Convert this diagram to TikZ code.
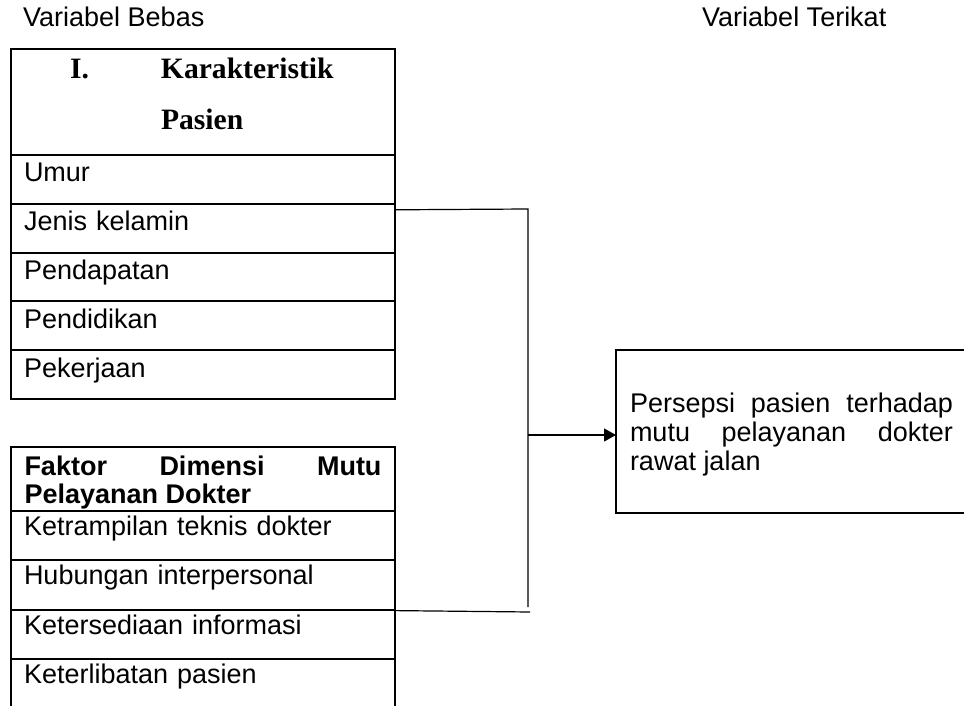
\documentclass[tikz,border=0pt]{standalone}
\usepackage{fontspec}
\setmainfont{Liberation Sans}
\newfontfamily\serifhead{Liberation Serif}
\usetikzlibrary{arrows.meta, positioning}
\tikzset{
  base/.style={draw=black, line width=2pt, inner ysep=0pt, outer sep=0pt,
               anchor=north west, font=\fontsize{27}{29}\selectfont},
  rowa/.style={base, text width=358pt, inner xsep=13pt, align=left,
               text height=27pt, text depth=21.8pt},
  rowb/.style={rowa, text height=24.5pt, text depth=24.8pt},
  headA/.style={base, text width=358pt, inner xsep=13pt, align=left,
                text height=30pt, text depth=76pt,
                font=\serifhead\bfseries\fontsize{29.6}{51}\selectfont},
  headB/.style={base, text width=357pt, inner xsep=13.5pt, align=justify,
                text height=28pt, text depth=36pt,
                font=\bfseries\fontsize{27}{28}\selectfont},
  target/.style={base, text width=323pt, inner xsep=14pt, align=justify,
                 text height=62pt, text depth=101pt},
  link/.style={line width=1.2pt, color=black},
  arr/.style={link, -{Triangle[length=12pt, width=13pt]}},
}

\begin{document}
\begin{tikzpicture}[
  x=1pt, y=-1pt,
  lbl/.style={font=\fontsize{27}{29}\selectfont, inner sep=0pt, anchor=base west},
  execute at begin node={\tolerance=9999\hyphenpenalty=10000}
]
  \useasboundingbox (0,0) rectangle (964,706);
  \clip (0,0) rectangle (964,706);

  % Titles
  \node[lbl] (bebas)   at (23,27)  {Variabel Bebas};
  \node[lbl] (terikat) at (702,27) {Variabel Terikat};

  % Karakteristik pasien
  \node[headA] (karakteristik) at (11,49)
    {\hspace*{46pt}\makebox[91pt][l]{I.}Karakteristik\\\hspace*{137pt}Pasien};
  \node[rowa] (umur)       at (karakteristik.south west) {Umur};
  \node[rowa] (jenis)      at (umur.south west)          {Jenis kelamin};
  \node[rowa] (pendapatan) at (jenis.south west)         {Pendapatan};
  \node[rowa] (pendidikan) at (pendapatan.south west)    {Pendidikan};
  \node[rowa] (pekerjaan)  at (pendidikan.south west)    {Pekerjaan};

  % Faktor dimensi mutu
  \node[headB] (faktor) at (11,447) {Faktor Dimensi Mutu Pelayanan Dokter};
  \node[rowb] (ketrampilan)  at (faktor.south west)       {Ketrampilan teknis dokter};
  \node[rowb] (hubungan)     at (ketrampilan.south west)  {Hubungan interpersonal};
  \node[rowb] (ketersediaan) at (hubungan.south west)     {Ketersediaan informasi};
  \node[rowb] (keterlibatan) at (ketersediaan.south west) {Keterlibatan pasien};

  % Variabel terikat
  \node[target] (persepsi) at (616,350)
    {Persepsi pasien terhadap mutu pelayanan dokter rawat jalan};

  % Connectors
  \coordinate (jtop) at (528,209);
  \coordinate (jmid) at (528,435);
  \coordinate (jbot) at (528,607);
  \coordinate (lowend) at (530,612);
  \draw[link] ([yshift=-6pt]jenis.north east) -- (jtop) -- (jbot);
  \draw[link] ([yshift=-1pt]ketersediaan.north east) -- (lowend);
  \draw[arr] (jmid) -- (jmid -| persepsi.west);
\end{tikzpicture}
\end{document}
